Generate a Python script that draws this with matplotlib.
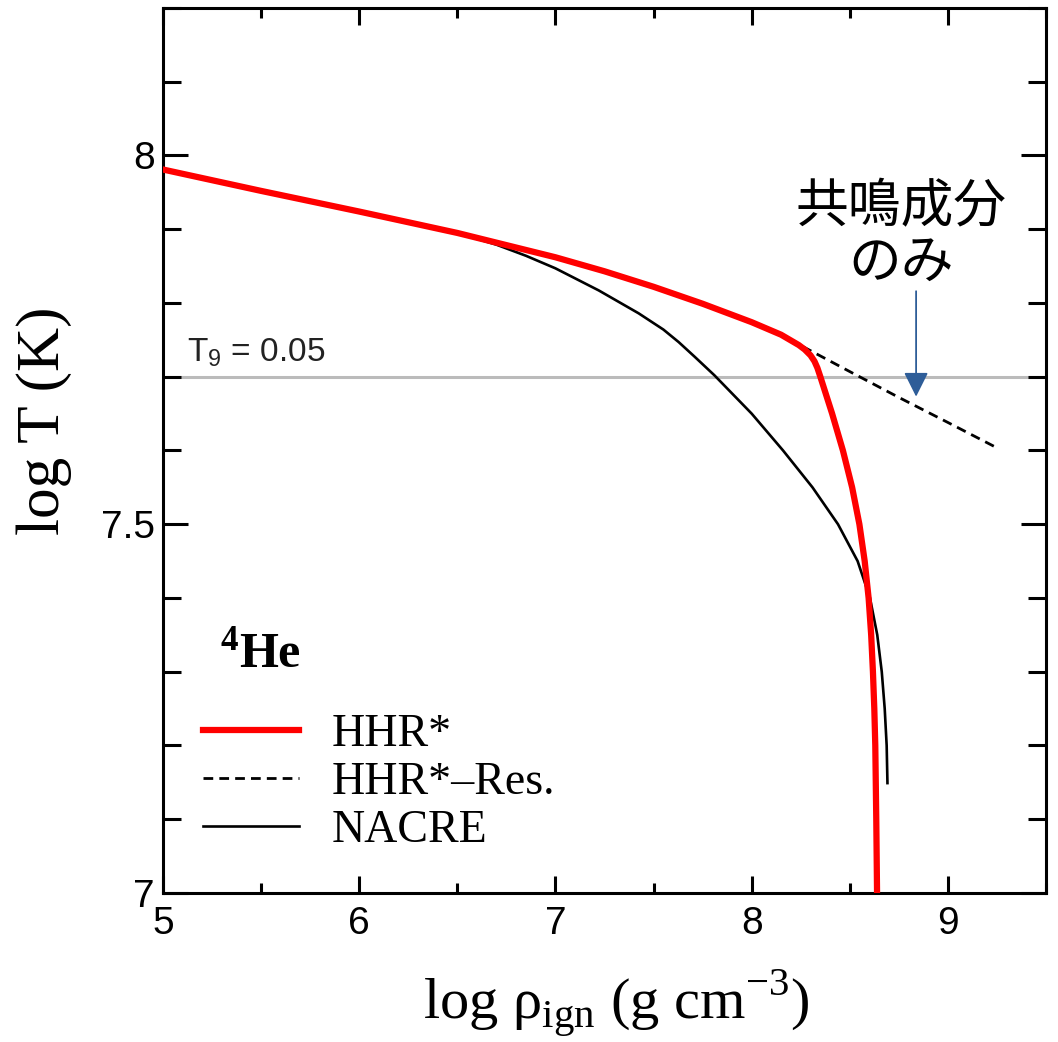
import matplotlib
matplotlib.use('Agg')
import matplotlib.pyplot as plt
from matplotlib.ticker import MultipleLocator

plt.rcParams['mathtext.fontset'] = 'custom'
plt.rcParams['mathtext.rm'] = 'Liberation Serif'
plt.rcParams['mathtext.bf'] = 'Liberation Serif:bold'
plt.rcParams['mathtext.sf'] = 'Liberation Sans'

# HHR* (full rate)
hhr_x = [5.0, 5.5, 6.0, 6.5, 7.0, 7.25, 7.5, 7.75, 8.0, 8.15, 8.24, 8.27, 8.30,
         8.32, 8.335, 8.35, 8.41, 8.465, 8.512, 8.549, 8.576, 8.596, 8.609, 8.618,
         8.625, 8.630, 8.635, 8.639]
hhr_y = [7.981, 7.952, 7.924, 7.895, 7.862, 7.843, 7.822, 7.799, 7.774, 7.757,
         7.743, 7.737, 7.729, 7.721, 7.712, 7.700, 7.650, 7.600, 7.550, 7.500,
         7.450, 7.400, 7.350, 7.300, 7.250, 7.200, 7.100, 7.000]

# HHR* without resonance
res_x = [8.26, 8.5, 8.75, 9.0, 9.24]
res_y = [7.741, 7.707, 7.672, 7.638, 7.605]

# NACRE
nacre_x = [5.0, 5.5, 6.0, 6.4, 6.55, 6.7, 6.85, 7.0, 7.221, 7.424, 7.55, 7.628,
           7.71, 7.81, 8.0, 8.16, 8.31, 8.44, 8.54, 8.603, 8.64, 8.663, 8.678,
           8.688, 8.692]
nacre_y = [7.981, 7.952, 7.924, 7.901, 7.891, 7.879, 7.864, 7.847, 7.817, 7.786,
           7.764, 7.747, 7.727, 7.702, 7.650, 7.600, 7.550, 7.500, 7.450, 7.400,
           7.350, 7.300, 7.250, 7.200, 7.149]

t9_line = 7.699  # log T for T9 = 0.05

fig = plt.figure(figsize=(10.58, 10.42), dpi=100)
ax = fig.add_axes([163/1058, 1 - 893/1042, 883/1058, 885/1042])

ax.axhline(t9_line, color='#bbbbbb', lw=2.2, zorder=1)
ax.plot(nacre_x, nacre_y, color='black', lw=1.9, label='NACRE', zorder=2,
        solid_joinstyle='round')
ax.plot(res_x, res_y, color='black', lw=2.0, ls=(0, (3.5, 2.2)), label='HHR*\u2013Res.', zorder=2)
ax.plot(hhr_x, hhr_y, color='red', lw=4.5, label='HHR*', zorder=3,
        solid_joinstyle='round')

ax.set_xlim(5, 9.5)
ax.set_ylim(7, 8.2)
ax.xaxis.set_minor_locator(MultipleLocator(0.5))
ax.yaxis.set_minor_locator(MultipleLocator(0.1))
ax.set_xticks([5, 6, 7, 8, 9])
ax.set_xticklabels(['5', '6', '7', '8', '9'])
ax.set_yticks([7, 7.5, 8])
ax.set_yticklabels(['7', '7.5', '8'])

for s in ax.spines.values():
    s.set_linewidth(2.2)
ax.tick_params(which='both', direction='in', top=True, right=True, width=2.2)
ax.tick_params(axis='y', which='major', length=18, pad=6)
ax.tick_params(axis='y', which='minor', length=13)
ax.tick_params(axis='x', which='major', length=12, pad=9)
ax.tick_params(axis='x', which='minor', length=7)
for lab in ax.get_xticklabels() + ax.get_yticklabels():
    lab.set_fontfamily('Liberation Sans')
    lab.set_fontsize(28)

ax.set_xlabel('log \u03c1$_{\\mathrm{ign}}$ (g cm$^{-3}$)', fontfamily='Liberation Serif', fontsize=42)
ax.set_ylabel('log T (K)', fontfamily='Liberation Serif', fontsize=44)
ax.xaxis.set_label_coords(0.513, -0.085)
ax.yaxis.set_label_coords(-0.103, 0.534)

ax.text(5.122, 7.721, 'T$_\\mathsf{9}$ = 0.05', fontfamily='Liberation Sans', fontsize=24,
        color='#222222', va='baseline')
ax.text(5.29, 7.306, '$\\mathbf{^{4}He}$', fontsize=36, va='baseline')

ax.text(8.761, 7.893, '共鳴成分\nのみ', fontfamily=['Noto Sans CJK JP', 'DejaVu Sans'],
        fontsize=38, ha='center', va='center', multialignment='center', linespacing=1.0)
ax.annotate('', xy=(8.838, 7.673), xytext=(8.838, 7.816),
            arrowprops=dict(arrowstyle='-|>,head_length=1.0,head_width=0.5', lw=1.3,
                            color='#2e5d98', shrinkA=0, shrinkB=0, mutation_scale=15))

handles, labels = ax.get_legend_handles_labels()
order = [2, 1, 0]
leg = ax.legend([handles[i] for i in order], [labels[i] for i in order],
                loc='center left', bbox_to_anchor=(0.045, 0.125), frameon=False,
                prop={'family': 'Liberation Serif', 'size': 33},
                handlelength=2.1, handletextpad=0.72, labelspacing=0.12,
                borderpad=0, borderaxespad=0)

fig.savefig('out.png', dpi=100)
plt.close()
